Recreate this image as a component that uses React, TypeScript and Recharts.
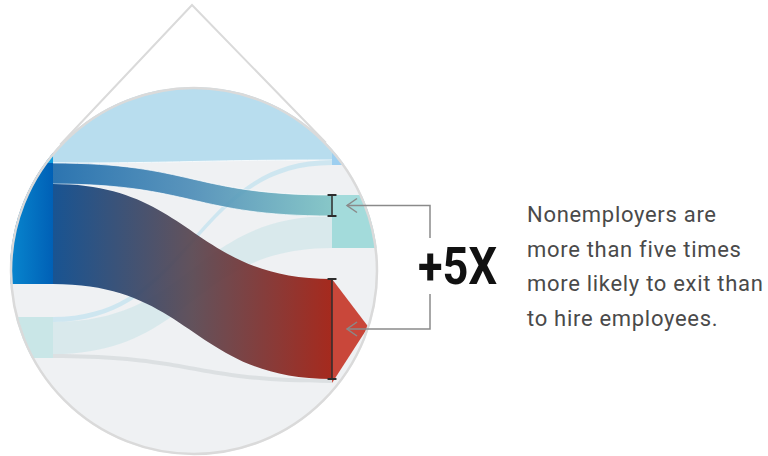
import React from "react";
import {
  AreaChart,
  Area,
  XAxis,
  YAxis,
  ReferenceArea,
  ReferenceLine,
} from "recharts";

const W = 768;
const H = 456;

// two stages of the sankey: year 1 (left) and year 2 (right)
const stages = [0, 1];

// flow sizes (share units)
const flowNames = ["stay", "toEmployer", "toExit", "newStay", "newEmployer", "newExit"];
const flowValues = [200, 21, 100, 5, 32, 4];

// stacking order of the flows on each side, and the gaps between node groups
const leftGroups = [
  ["stay", "toEmployer", "toExit"],
  ["newStay", "newEmployer", "newExit"],
];
const leftStart = -37;
const leftGaps = [33];

const rightGroups = [
  ["stay", "newStay"],
  ["toEmployer", "newEmployer"],
  ["toExit", "newExit"],
];
const rightStart = -40;
const rightGaps = [30, 31];

const textLines = [
  "Nonemployers are",
  "more than five times",
  "more likely to exit than",
  "to hire employees.",
];

const X_DOMAIN = [-0.19, 2.5627];
const CX = 194;
const CY = 271;
const R = 184;

function stack(groups: string[][], start: number, gaps: number[]) {
  const flows: Record<string, [number, number]> = {};
  const nodes: [number, number][] = [];
  let y = start;
  groups.forEach((g, gi) => {
    const top = y;
    g.forEach((name) => {
      const v = flowValues[flowNames.indexOf(name)];
      flows[name] = [y, y + v];
      y += v;
    });
    nodes.push([top, y]);
    if (gi < gaps.length) y += gaps[gi];
  });
  return { flows, nodes };
}

const left = stack(leftGroups, leftStart, leftGaps);
const right = stack(rightGroups, rightStart, rightGaps);

const data = stages.map((s) => {
  const side = s === 0 ? left : right;
  const row: any = { stage: s };
  flowNames.forEach((n) => (row[n] = side.flows[n]));
  return row;
});

const xPx = (v: number) => ((v - X_DOMAIN[0]) / (X_DOMAIN[1] - X_DOMAIN[0])) * W;

const RedNode = (props: any) => {
  const { x, y, width, height } = props;
  return (
    <polygon
      points={`${x},${y} ${x + width},${y + height * 0.46} ${x},${y + height}`}
      fill="#c9473a"
    />
  );
};

function Arrow({ y, toY }: { y: number; toY: number }) {
  const tip = xPx(1) + 15;
  const bx = 430;
  return (
    <g stroke="#8a8a8a" strokeWidth={1.5} fill="none">
      <polyline points={`${tip + 10},${y - 7} ${tip},${y} ${tip + 10},${y + 7}`} />
      <polyline points={`${tip},${y} ${bx},${y} ${bx},${toY}`} />
    </g>
  );
}

export default function App() {
  const apex = { x: 192, y: 5 };
  const dx = CX - apex.x;
  const dy = CY - apex.y;
  const d = Math.sqrt(dx * dx + dy * dy);
  const base = Math.atan2(dy, dx);
  const half = Math.asin(R / d);
  const L = Math.sqrt(d * d - R * R);
  const t1 = { x: apex.x + L * Math.cos(base - half), y: apex.y + L * Math.sin(base - half) };
  const t2 = { x: apex.x + L * Math.cos(base + half), y: apex.y + L * Math.sin(base + half) };

  const empR = right.flows.toEmployer;
  const exitR = right.flows.toExit;
  const cap = 0.016;

  return (
    <div style={{ position: "absolute", left: 0, top: 0, width: W, height: H, background: "#fff" }}>
      <svg width={W} height={H} style={{ position: "absolute", left: 0, top: 0 }}>
        <circle cx={CX} cy={CY} r={R} fill="#eff1f3" />
      </svg>

      <div
        style={{
          position: "absolute",
          left: 0,
          top: 0,
          width: W,
          height: H,
          clipPath: `circle(${R}px at ${CX}px ${CY}px)`,
        }}
      >
        <AreaChart width={W} height={H} data={data} margin={{ top: 0, right: 0, bottom: 0, left: 0 }}>
          <defs>
            <linearGradient id="gEmp" x1="0" y1="0" x2="1" y2="0">
              <stop offset="0%" stopColor="#1767a9" />
              <stop offset="50%" stopColor="#4a8bb6" />
              <stop offset="100%" stopColor="#7cc2c3" />
            </linearGradient>
            <linearGradient id="gExit" x1="0" y1="0" x2="1" y2="0">
              <stop offset="0%" stopColor="#0b4a8c" />
              <stop offset="50%" stopColor="#5a4852" />
              <stop offset="100%" stopColor="#a11d10" />
            </linearGradient>
            <linearGradient id="gNode" x1="0" y1="0" x2="1" y2="0">
              <stop offset="0%" stopColor="#0a8fd4" />
              <stop offset="100%" stopColor="#0060b6" />
            </linearGradient>
          </defs>
          <XAxis type="number" dataKey="stage" domain={X_DOMAIN} hide allowDataOverflow />
          <YAxis type="number" domain={[0, H]} reversed hide allowDataOverflow />

          <Area dataKey="stay" type="bumpX" fill="#b8ddee" fillOpacity={1} stroke="#ffffff" strokeWidth={1} strokeOpacity={0.8} isAnimationActive={false} dot={false} activeDot={false} />
          <Area dataKey="newEmployer" type="bumpX" fill="#bfe1e4" fillOpacity={0.45} stroke="none" isAnimationActive={false} dot={false} activeDot={false} />
          <Area dataKey="newStay" type="bumpX" fill="#c6e3ef" fillOpacity={0.8} stroke="none" isAnimationActive={false} dot={false} activeDot={false} />
          <Area dataKey="newExit" type="bumpX" fill="#d9dee0" fillOpacity={0.9} stroke="none" isAnimationActive={false} dot={false} activeDot={false} />
          <Area dataKey="toEmployer" type="bumpX" fill="url(#gEmp)" fillOpacity={0.9} stroke="#ffffff" strokeWidth={1} strokeOpacity={0.7} isAnimationActive={false} dot={false} activeDot={false} />
          <Area dataKey="toExit" type="bumpX" fill="url(#gExit)" fillOpacity={0.94} stroke="none" isAnimationActive={false} dot={false} activeDot={false} />

          {/* left nodes */}
          <ReferenceArea x1={X_DOMAIN[0]} x2={0} y1={left.nodes[0][0]} y2={left.nodes[0][1]} fill="url(#gNode)" fillOpacity={1} ifOverflow="visible" />
          <ReferenceArea x1={X_DOMAIN[0]} x2={0} y1={left.flows.stay[0]} y2={left.flows.stay[1]} fill="#0f9fdf" fillOpacity={1} ifOverflow="visible" />
          <ReferenceArea x1={X_DOMAIN[0]} x2={0} y1={left.nodes[1][0]} y2={left.nodes[1][1]} fill="#c9e6e7" fillOpacity={1} ifOverflow="visible" />
          {/* right nodes */}
          <ReferenceArea x1={1} x2={1.25} y1={right.nodes[0][0]} y2={right.nodes[0][1]} fill="#9dcff0" fillOpacity={1} ifOverflow="visible" />
          <ReferenceArea x1={1} x2={1.25} y1={right.nodes[1][0]} y2={right.nodes[1][1]} fill="#a3dbdb" fillOpacity={1} ifOverflow="visible" />
          <ReferenceArea x1={1} x2={1.13} y1={right.nodes[2][0]} y2={right.nodes[2][1]} shape={RedNode} ifOverflow="visible" />

          {/* brackets */}
          <ReferenceLine segment={[{ x: 1, y: empR[0] }, { x: 1, y: empR[1] }]} stroke="#2d2d2d" strokeWidth={1.5} ifOverflow="visible" />
          <ReferenceLine segment={[{ x: 1 - cap, y: empR[0] }, { x: 1 + cap, y: empR[0] }]} stroke="#2d2d2d" strokeWidth={2} ifOverflow="visible" />
          <ReferenceLine segment={[{ x: 1 - cap, y: empR[1] }, { x: 1 + cap, y: empR[1] }]} stroke="#2d2d2d" strokeWidth={2} ifOverflow="visible" />
          <ReferenceLine segment={[{ x: 1, y: exitR[0] }, { x: 1, y: exitR[1] }]} stroke="#2d2d2d" strokeWidth={1.5} ifOverflow="visible" />
          <ReferenceLine segment={[{ x: 1 - cap, y: exitR[0] }, { x: 1 + cap, y: exitR[0] }]} stroke="#2d2d2d" strokeWidth={2} ifOverflow="visible" />
          <ReferenceLine segment={[{ x: 1 - cap, y: exitR[1] }, { x: 1 + cap, y: exitR[1] }]} stroke="#2d2d2d" strokeWidth={2} ifOverflow="visible" />
        </AreaChart>
      </div>

      <svg width={W} height={H} style={{ position: "absolute", left: 0, top: 0, pointerEvents: "none" }}>
        <polyline
          points={`${t1.x},${t1.y} ${apex.x},${apex.y} ${t2.x},${t2.y}`}
          fill="none"
          stroke="#dadada"
          strokeWidth={2}
        />
        <circle cx={CX} cy={CY} r={R - 1} fill="none" stroke="#dadada" strokeWidth={2.5} />

        <Arrow y={(empR[0] + empR[1]) / 2} toY={238} />
        <Arrow y={(exitR[0] + exitR[1]) / 2} toY={294} />

        <text
          x={418}
          y={284}
          fontFamily="Roboto, sans-serif"
          fontWeight={700}
          fontSize={52}
          fill="#111"
          textLength={79}
          lengthAdjust="spacingAndGlyphs"
        >
          +5X
        </text>

        {textLines.map((t, i) => (
          <text
            key={t}
            x={527}
            y={222 + i * 34.7}
            fontFamily="Roboto, sans-serif"
            fontSize={22}
            letterSpacing={0.7}
            fill="#4a4a4a"
          >
            {t}
          </text>
        ))}
      </svg>
    </div>
  );
}
